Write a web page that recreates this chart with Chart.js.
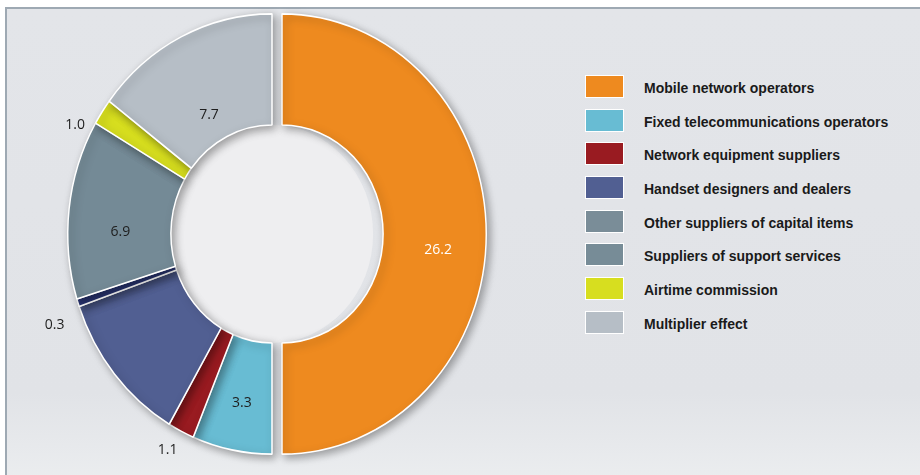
<!DOCTYPE html>
<html>
<head>
<meta charset="utf-8">
<script src="https://cdn.jsdelivr.net/npm/chart.js@4.4.1/dist/chart.umd.min.js"></script>
<style>
  html, body { margin: 0; padding: 0; background: #ffffff; }
  #stage { position: relative; width: 920px; height: 475px; overflow: hidden; }
  #panel {
    position: absolute; left: 5px; top: 7px; width: 930px; height: 480px;
    border-top: 2px solid #9ea9b3; border-left: 2px solid #9ea9b3;
    background: linear-gradient(180deg, #e3e5e9 0%, #e1e3e7 80%, #eceef0 100%);
  }
  #chartBox { position: absolute; left: 0; top: 0; width: 544px; height: 470px; }
  #legend { position: absolute; left: 585px; top: 75px; margin: 0; padding: 0; list-style: none; }
  #legend li { height: 33.7px; display: flex; align-items: flex-start; }
  #legend .sw { width: 37px; height: 21px; border: 1px solid #ffffff; box-sizing: content-box; }
  #legend .tx {
    margin-left: 20px; margin-top: 5px;
    font: bold 14px "Liberation Sans Narrow", "Liberation Sans", Arial, sans-serif;
    color: #1a1a1a;
  }
</style>
</head>
<body>
<div id="stage">
  <div id="panel"></div>
  <div id="chartBox"><canvas id="donut" width="544" height="470"></canvas></div>
  <ul id="legend"></ul>
</div>
<script>
// datos del gráfico
const categories = [
  'Mobile network operators',
  'Fixed telecommunications operators',
  'Network equipment suppliers',
  'Handset designers and dealers',
  'Other suppliers of capital items',
  'Suppliers of support services',
  'Airtime commission',
  'Multiplier effect'
];
const values = [26.2, 3.3, 1.1, 5.9, 0.3, 6.9, 1.0, 7.7];
const valueLabels = ['26.2', '3.3', '1.1', '', '0.3', '6.9', '1.0', '7.7'];

// estilos
const sliceColors = ['#ee8a1f', '#68bcd3', '#991b21', '#515f92', '#2c387a', '#748a96', '#d7de1f', '#b6bec6'];
const legendColors = ['#ee8a1f', '#68bcd3', '#991b21', '#515f92', '#7a8d98', '#778c97', '#d7de1f', '#b6bec6'];
const explode = [10, 0, 0, 0, 0, 0, 0, 0];
const stretchY = 1.078; // el original está algo estirado en vertical
const labelPlace = ['in', 'in', 'out', 'none', 'out', 'in', 'out', 'in'];
// posición de etiquetas: fracción del anillo (in) o px fuera del borde (out), y giro en grados
const labelRing = [0.54, 0.57, 22, 0, 29, 0.49, 17, 0.25];
const labelTurn = [5.4, -0.5, 1, 0, -3.1, -5.8, -6.5, -3.3];

// leyenda HTML
const legendEl = document.getElementById('legend');
categories.forEach((c, i) => {
    const li = document.createElement('li');
    li.innerHTML = '<span class="sw" style="background:' + legendColors[i] + '"></span><span class="tx">' + c + '</span>';
    legendEl.appendChild(li);
});

function centro(chart) {
    const a = chart.chartArea;
    return { cx: (a.left + a.right) / 2, cy: (a.top + a.bottom) / 2 };
}

const stretchPlugin = {
    id: 'stretchPlugin',
    beforeDatasetsDraw(chart) {
        const ctx = chart.ctx;
        const { cx, cy } = centro(chart);
        const meta = chart.getDatasetMeta(0);
        // desplazar porciones sin agrandar el radio
        meta.data.forEach((arc, i) => {
            if (!explode[i] || arc._explotado) return;
            const original = arc.draw;
            arc.draw = function (c) {
                const mid = (this.startAngle + this.endAngle) / 2;
                c.save();
                c.translate(Math.cos(mid) * explode[i], Math.sin(mid) * explode[i]);
                original.call(this, c);
                c.restore();
            };
            arc._explotado = true;
        });
        ctx.save();
        ctx.translate(cx, cy);
        ctx.scale(1, stretchY);
        ctx.translate(-cx, -cy);
        // fondo del hueco central
        ctx.beginPath();
        ctx.arc(cx, cy, meta.controller.innerRadius, 0, Math.PI * 2);
        ctx.fillStyle = '#eeeef0';
        ctx.fill();
        ctx.shadowColor = 'rgba(0,0,0,0.35)';
        ctx.shadowBlur = 8;
        ctx.shadowOffsetX = 3;
        ctx.shadowOffsetY = 3;
    },
    afterDatasetsDraw(chart) {
        chart.ctx.restore();
    }
};

const labelPlugin = {
    id: 'labelPlugin',
    afterDraw(chart) {
        const ctx = chart.ctx;
        const meta = chart.getDatasetMeta(0);
        ctx.save();
        ctx.font = '14px "Open Sans", "Liberation Sans", sans-serif';
        ctx.textAlign = 'center';
        ctx.textBaseline = 'middle';
        meta.data.forEach((arc, i) => {
            if (labelPlace[i] === 'none') return;
            const p = arc.getProps(['x', 'y', 'startAngle', 'endAngle', 'innerRadius', 'outerRadius']);
            const baseMid = (p.startAngle + p.endAngle) / 2;
            const mid = baseMid + labelTurn[i] * Math.PI / 180;
            const x0 = p.x + Math.cos(baseMid) * explode[i];
            const y0 = p.y + Math.sin(baseMid) * explode[i];
            let r;
            if (labelPlace[i] === 'in') {
                r = p.innerRadius + (p.outerRadius - p.innerRadius) * labelRing[i];
                ctx.fillStyle = i === 0 ? '#ffffff' : '#1e1e1e';
            } else {
                r = p.outerRadius + labelRing[i];
                ctx.fillStyle = '#1e1e1e';
            }
            ctx.fillText(valueLabels[i], x0 + Math.cos(mid) * r, y0 + Math.sin(mid) * r * stretchY);
        });
        ctx.restore();
    }
};

new Chart(document.getElementById('donut'), {
    type: 'doughnut',
    data: {
        labels: categories,
        datasets: [{
            data: values,
            backgroundColor: sliceColors,
            borderColor: '#ffffff',
            borderWidth: 1.5
        }]
    },
    options: {
        responsive: false,
        animation: false,
        devicePixelRatio: 1,
        cutout: '49.5%',
        layout: { padding: { top: 29, bottom: 31, left: 67, right: 67 } },
        plugins: { legend: { display: false }, tooltip: { enabled: false } }
    },
    plugins: [stretchPlugin, labelPlugin]
});
</script>
</body>
</html>
